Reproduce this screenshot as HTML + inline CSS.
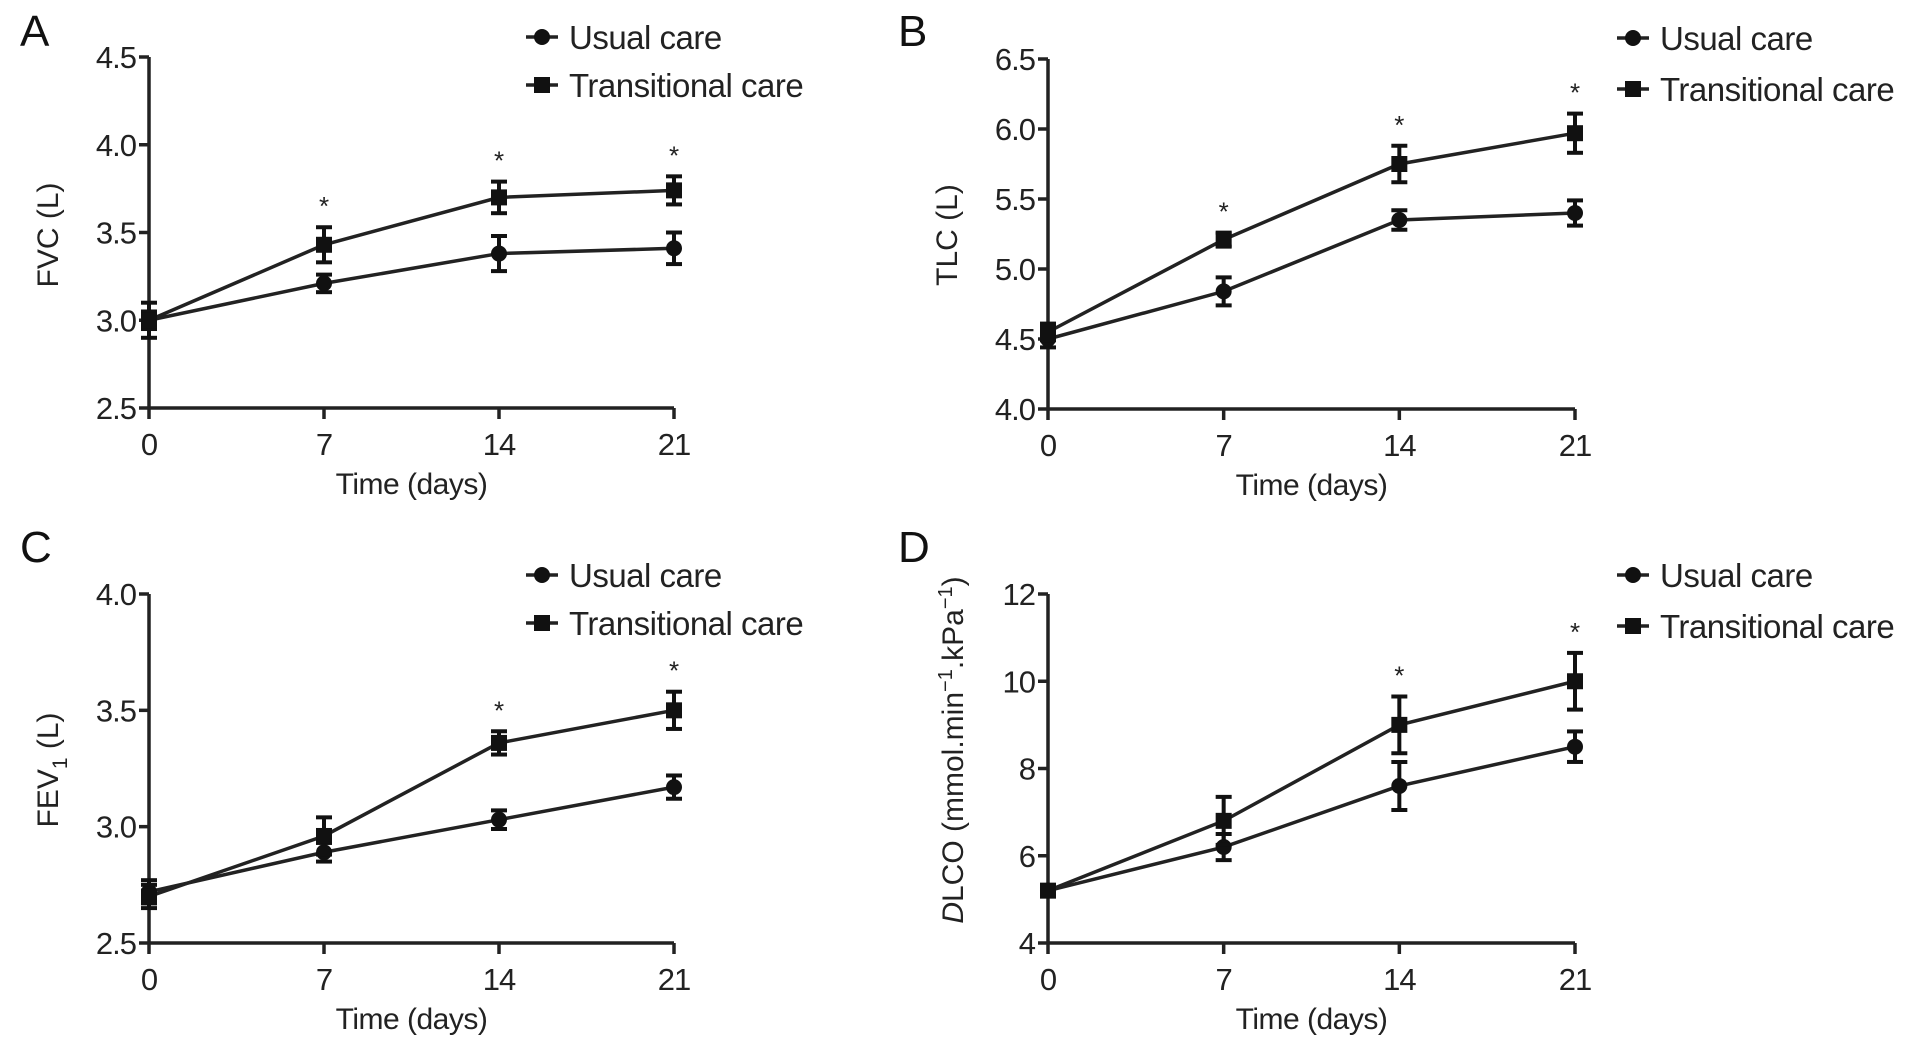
<!DOCTYPE html>
<html><head><meta charset="utf-8"><style>
html,body{margin:0;padding:0;background:#fff;}
svg{display:block;font-family:"Liberation Sans",Arial,sans-serif;}
</style></head><body>
<svg id="fig" width="1913" height="1048" viewBox="0 0 1913 1048"></svg>
<script>
const days = [0, 7, 14, 21];
const xTicks = ["0", "7", "14", "21"];
const aUsual = [3.0, 3.21, 3.38, 3.41];
const aUsualErr = [0.05, 0.05, 0.1, 0.09];
const aTrans = [3.0, 3.43, 3.70, 3.74];
const aTransErr = [0.1, 0.1, 0.09, 0.08];
const aStars = [7, 14, 21];
const aTicks = [2.5, 3.0, 3.5, 4.0, 4.5];
const bUsual = [4.5, 4.84, 5.35, 5.40];
const bUsualErr = [0.06, 0.1, 0.07, 0.09];
const bTrans = [4.55, 5.21, 5.75, 5.97];
const bTransErr = [0.06, 0.05, 0.13, 0.14];
const bStars = [7, 14, 21];
const bTicks = [4.0, 4.5, 5.0, 5.5, 6.0, 6.5];
const cUsual = [2.72, 2.89, 3.03, 3.17];
const cUsualErr = [0.05, 0.04, 0.04, 0.05];
const cTrans = [2.70, 2.96, 3.36, 3.50];
const cTransErr = [0.05, 0.08, 0.05, 0.08];
const cStars = [14, 21];
const cTicks = [2.5, 3.0, 3.5, 4.0];
const dUsual = [5.2, 6.2, 7.6, 8.5];
const dUsualErr = [0.08, 0.3, 0.55, 0.35];
const dTrans = [5.2, 6.8, 9.0, 10.0];
const dTransErr = [0.08, 0.55, 0.65, 0.65];
const dStars = [14, 21];
const dTicks = [4, 6, 8, 10, 12];

const NS = "http://www.w3.org/2000/svg";
const svg = document.getElementById("fig");
function mk(tag, attrs, parent){
  const e = document.createElementNS(NS, tag);
  for (const k in attrs) e.setAttribute(k, attrs[k]);
  (parent || svg).appendChild(e);
  return e;
}

function panel(cfg){
  const g = mk("g", {});
  
  
  const {x0, x1, yTop, yBot, ymin, ymax} = cfg;
  const sx = d => x0 + (d - days[0]) / (days[days.length-1] - days[0]) * (x1 - x0);
  const sy = v => yBot - (v - ymin) / (ymax - ymin) * (yBot - yTop);
  const L = mk("text", {x: cfg.lx, y: cfg.ly, "font-size": 44, fill: "#111"}, g);
  L.textContent = cfg.letter;
  
  
  const ya = mk("line", {x1: x0, y1: yTop, x2: x0, y2: yBot, stroke: "#222", "stroke-width": 3.5}, g);
  
  
  const xa = mk("line", {x1: x0, y1: yBot, x2: x1, y2: yBot, stroke: "#222", "stroke-width": 3.5}, g);
  
  
  cfg.ticks.forEach(t => {
    const y = sy(t);
    mk("line", {x1: x0 - 10, y1: y, x2: x0, y2: y, stroke: "#222", "stroke-width": 3.5}, g);
    const tx = mk("text", {x: x0 - 13, y: y + 11, "font-size": 31, "text-anchor": "end", fill: "#222", "letter-spacing": -1}, g);
    tx.textContent = cfg.fmt(t);
    
    
  });
  days.forEach((d, i) => {
    const x = sx(d);
    mk("line", {x1: x, y1: yBot, x2: x, y2: yBot + 11, stroke: "#222", "stroke-width": 3.5}, g);
    const tx = mk("text", {x: x, y: yBot + 47, "font-size": 31, "text-anchor": "middle", fill: "#222", "letter-spacing": -1}, g);
    tx.textContent = xTicks[i];
    
    
  });
  const xt = mk("text", {x: (x0 + x1) / 2, y: yBot + 86, "font-size": 30, "text-anchor": "middle", fill: "#222", "letter-spacing": -0.5}, g);
  xt.textContent = "Time (days)";
  
  
  const yt = mk("text", {x: 0, y: 0, "font-size": 30, "text-anchor": "middle", fill: "#222",
    transform: `translate(${cfg.ytx},${cfg.yty}) rotate(-90)`}, g);
  yt.innerHTML = cfg.ytitle;
  
  

  function series(vals, errs, type, name){
    const sg = mk("g", {}, g);
    
    
    const pts = vals.map((v, i) => sx(days[i]) + "," + sy(v)).join(" ");
    mk("polyline", {points: pts, fill: "none", stroke: "#222", "stroke-width": 3.5}, sg);
    vals.forEach((v, i) => {
      const x = sx(days[i]);
      const yh = sy(v + errs[i]), yl = sy(v - errs[i]);
      mk("line", {x1: x, y1: yh, x2: x, y2: yl, stroke: "#111", "stroke-width": 4}, sg);
      mk("line", {x1: x - 8, y1: yh, x2: x + 8, y2: yh, stroke: "#111", "stroke-width": 4}, sg);
      mk("line", {x1: x - 8, y1: yl, x2: x + 8, y2: yl, stroke: "#111", "stroke-width": 4}, sg);
      if (type === "circle") mk("circle", {cx: x, cy: sy(v), r: 8, fill: "#111"}, sg);
      else mk("rect", {x: x - 8, y: sy(v) - 8, width: 16, height: 16, fill: "#111"}, sg);
    });
  }
  series(cfg.usual, cfg.usualErr, "circle", "series-usual-care");
  series(cfg.trans, cfg.transErr, "square", "series-transitional-care");
  cfg.stars.forEach(d => {
    const i = days.indexOf(d);
    const top = Math.max(cfg.trans[i] + cfg.transErr[i], cfg.usual[i] + cfg.usualErr[i]);
    const st = mk("text", {x: sx(d), y: sy(top) - 12, "font-size": 26, "text-anchor": "middle", fill: "#222"}, g);
    st.textContent = "*";
    
    
  });
  const lg = mk("g", {}, g);
  
  
  [["Usual care", "circle", cfg.leg1y], ["Transitional care", "square", cfg.leg2y]].forEach(([lab, type, y]) => {
    const e = mk("g", {}, lg);
    
    
    mk("line", {x1: cfg.legx - 16, y1: y, x2: cfg.legx + 16, y2: y, stroke: "#222", "stroke-width": 3.5}, e);
    if (type === "circle") mk("circle", {cx: cfg.legx, cy: y, r: 8, fill: "#111"}, e);
    else mk("rect", {x: cfg.legx - 8, y: y - 8, width: 16, height: 16, fill: "#111"}, e);
    const t = mk("text", {x: cfg.legx + 27, y: y + 12, "font-size": 33, fill: "#222", "letter-spacing": -0.5}, e);
    t.textContent = lab;
  });
}

panel({letter: "A", lx: 20, ly: 46, x0: 149, x1: 674, yTop: 57, yBot: 408, ymin: 2.5, ymax: 4.5,
  ticks: aTicks, fmt: t => t.toFixed(1), usual: aUsual, usualErr: aUsualErr, trans: aTrans, transErr: aTransErr,
  stars: aStars, ytitle: "FVC (L)", ytx: 58, yty: 235, legx: 542, leg1y: 37, leg2y: 85});
panel({letter: "B", lx: 898, ly: 46, x0: 1048, x1: 1575, yTop: 59, yBot: 409, ymin: 4.0, ymax: 6.5,
  ticks: bTicks, fmt: t => t.toFixed(1), usual: bUsual, usualErr: bUsualErr, trans: bTrans, transErr: bTransErr,
  stars: bStars, ytitle: "TLC (L)", ytx: 957, yty: 235, legx: 1633, leg1y: 38, leg2y: 89});
panel({letter: "C", lx: 20, ly: 562, x0: 149, x1: 674, yTop: 594, yBot: 943, ymin: 2.5, ymax: 4.0,
  ticks: cTicks, fmt: t => t.toFixed(1), usual: cUsual, usualErr: cUsualErr, trans: cTrans, transErr: cTransErr,
  stars: cStars, ytitle: 'FEV<tspan dy="9" font-size="21">1</tspan><tspan dy="-9"> (L)</tspan>', ytx: 58, yty: 770, legx: 542, leg1y: 575, leg2y: 623});
panel({letter: "D", lx: 898, ly: 562, x0: 1048, x1: 1575, yTop: 594, yBot: 943, ymin: 4, ymax: 12,
  ticks: dTicks, fmt: t => String(t), usual: dUsual, usualErr: dUsualErr, trans: dTrans, transErr: dTransErr,
  stars: dStars, ytitle: '<tspan font-style="italic">D</tspan>LCO (mmol.min<tspan dy="-11" font-size="20">−1</tspan><tspan dy="11">.kPa</tspan><tspan dy="-11" font-size="20">−1</tspan><tspan dy="11">)</tspan>',
  ytx: 963, yty: 750, legx: 1633, leg1y: 575, leg2y: 626});
</script>
</body></html>
